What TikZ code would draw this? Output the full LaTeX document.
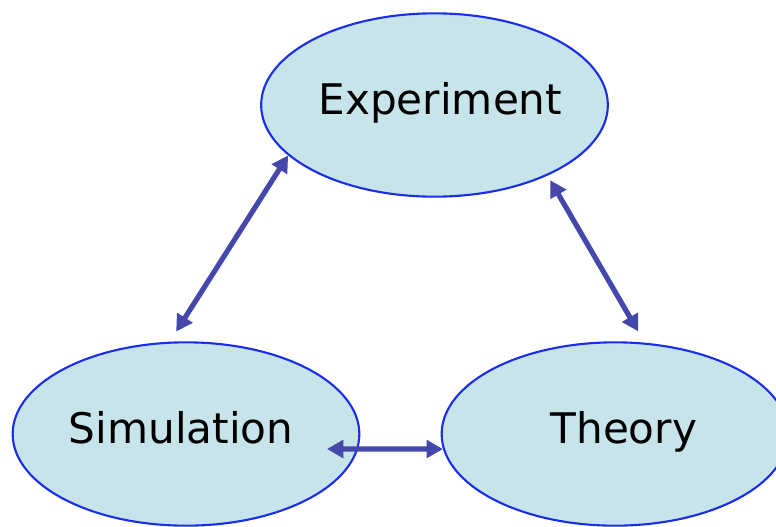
\documentclass[tikz,border=0pt]{standalone}
\usepackage{fontspec}
\setmainfont{DejaVu Sans}
\usetikzlibrary{arrows.meta, shapes.geometric}
\definecolor{blobfill}{RGB}{198,228,233}
\definecolor{blobline}{RGB}{25,45,235}
\definecolor{linkc}{RGB}{68,72,170}

\begin{document}
\begin{tikzpicture}[x=0.03cm,y=-0.03cm,
	blob/.style={ellipse,draw=blobline,fill=blobfill,line width=1.8pt,minimum width=10.4cm,minimum height=5.5cm,font=\fontsize{36}{40}\selectfont,text height=26pt,text depth=10pt},
	link/.style={linkc,line width=4.4pt,{Triangle[length=14pt,width=15pt]}-{Triangle[length=14pt,width=15pt]}}]
			\useasboundingbox (0,0) rectangle (776,526);
			% ellipses
			\node[blob] (exp) at (434.5,105) {\makebox[0pt]{\hspace{10pt}Experiment}};
			\node[blob] (sim) at (186,434) {\makebox[0pt]{Simulation\hspace{8.5pt}}};
			\node[blob] (thy) at (615,434) {\makebox[0pt]{\hspace{15pt}Theory}};
			% free end inside simulation
			\coordinate (simin) at (327,449);
			% links
			\draw[link,shorten >=0.36cm] (exp.199) -- (sim.100);
			\draw[link,shorten <=0.16cm,shorten >=0.39cm] (exp.328) -- (thy.72);
			\draw[link] (simin) -- (thy.185);
		\end{tikzpicture}
\end{document}
